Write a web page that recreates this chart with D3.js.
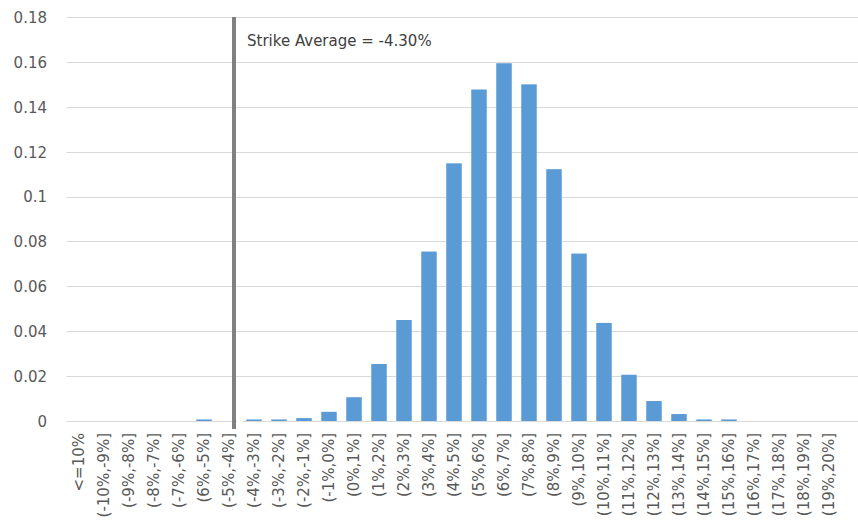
<!DOCTYPE html>
<html>
<head>
<meta charset="utf-8">
<script src="https://cdn.jsdelivr.net/npm/d3@7"></script>
<style>
  html, body { margin: 0; padding: 0; background: #fff; }
  svg { display: block; }
</style>
</head>
<body>
<div id="chart"></div>
<script>
const categories = ["<=10%", "(-10%,-9%]", "(-9%,-8%]", "(-8%,-7%]", "(-7%,-6%]", "(6%,-5%]", "(-5%,-4%]",
  "(-4%,-3%]", "(-3%,-2%]", "(-2%,-1%]", "(-1%,0%]", "(0%,1%]", "(1%,2%]", "(2%,3%]", "(3%,4%]", "(4%,5%]",
  "(5%,6%]", "(6%,7%]", "(7%,8%]", "(8%,9%]", "(9%,10%]", "(10%,11%]", "(11%,12%]", "(12%,13%]", "(13%,14%]",
  "(14%,15%]", "(15%,16%]", "(16%,17%]", "(17%,18%]", "(18%,19%]", "(19%,20%]"];
const values = [0, 0, 0, 0, 0, 0.0007, 0, 0.0007, 0.0007, 0.0013, 0.0041, 0.0106, 0.0254, 0.045, 0.0755, 0.1148,
  0.1477, 0.1594, 0.150, 0.1122, 0.0746, 0.0437, 0.0206, 0.0089, 0.0031, 0.0007, 0.0007, 0, 0, 0, 0];
const yTicks = [0, 0.02, 0.04, 0.06, 0.08, 0.1, 0.12, 0.14, 0.16, 0.18];
const strikeAverage = -4.30;   // percent
const strikeLabel = "Strike Average = -4.30%";

(function () {
const W = 858, H = 525;
const mLeft = 66.5, mRight = 841.5, gridRight = 858, mTop = 17, mBottom = 421;
const font = "'DejaVu Sans', sans-serif";

const svg = d3.select("#chart").append("svg").attr("width", W).attr("height", H);

const x = d3.scaleBand().domain(categories).range([mLeft, mRight]).paddingInner(0.38).paddingOuter(0.19);
const y = d3.scaleLinear().domain([0, 0.18]).range([mBottom, mTop]);

// gridlines
svg.append("g").selectAll("line").data(yTicks).join("line")
  .attr("x1", mLeft).attr("x2", gridRight)
  .attr("y1", d => Math.round(y(d)) + 0.5).attr("y2", d => Math.round(y(d)) + 0.5)
  .attr("stroke", "#d9d9d9").attr("stroke-width", 1);

// y labels
const yAxis = d3.axisLeft(y).tickValues(yTicks).tickSize(0).tickPadding(0)
  .tickFormat(d => String(+d.toFixed(2)));
const ya = svg.append("g").attr("transform", "translate(47,0)").call(yAxis);
ya.select(".domain").remove();
ya.selectAll("text").attr("font-family", font).attr("font-size", 15).attr("fill", "#595959").attr("dy", "0.36em");

// bars
svg.append("g").selectAll("rect").data(values).join("rect")
  .attr("x", (d, i) => x(categories[i]))
  .attr("width", x.bandwidth())
  .attr("y", d => y(d))
  .attr("height", d => y(0) - y(d))
  .attr("fill", "#5b9bd5");

// x labels
const xAxis = d3.axisBottom(x).tickSize(0).tickPadding(0);
const xa = svg.append("g").attr("transform", `translate(0,${mBottom})`).call(xAxis);
xa.select(".domain").remove();
xa.selectAll("text")
  .attr("font-family", font).attr("font-size", 15).attr("fill", "#595959")
  .attr("text-anchor", "end")
  .attr("transform", "rotate(-90)")
  .attr("x", -12).attr("y", 0).attr("dy", "0.3em");

// strike average vertical line: position along continuous % axis
const step = x.step();
const zeroBinIdx = categories.indexOf("(-1%,0%]");
const c0 = x(categories[zeroBinIdx]) + x.bandwidth() / 2;
const pct = d3.scaleLinear().domain([-0.5, 0.5]).range([c0, c0 + step]);
const lx = pct(strikeAverage);
svg.append("rect").attr("x", lx + 3).attr("y", mBottom - 1).attr("width", 6).attr("height", 3).attr("fill", "#fff");
svg.append("line")
  .attr("x1", lx).attr("x2", lx).attr("y1", mTop).attr("y2", 429)
  .attr("stroke", "#808080").attr("stroke-width", 4);

svg.append("text").attr("x", 247).attr("y", 46)
  .attr("font-family", font).attr("font-size", 15).attr("fill", "#404040")
  .text(strikeLabel);
})();
</script>
</body>
</html>
